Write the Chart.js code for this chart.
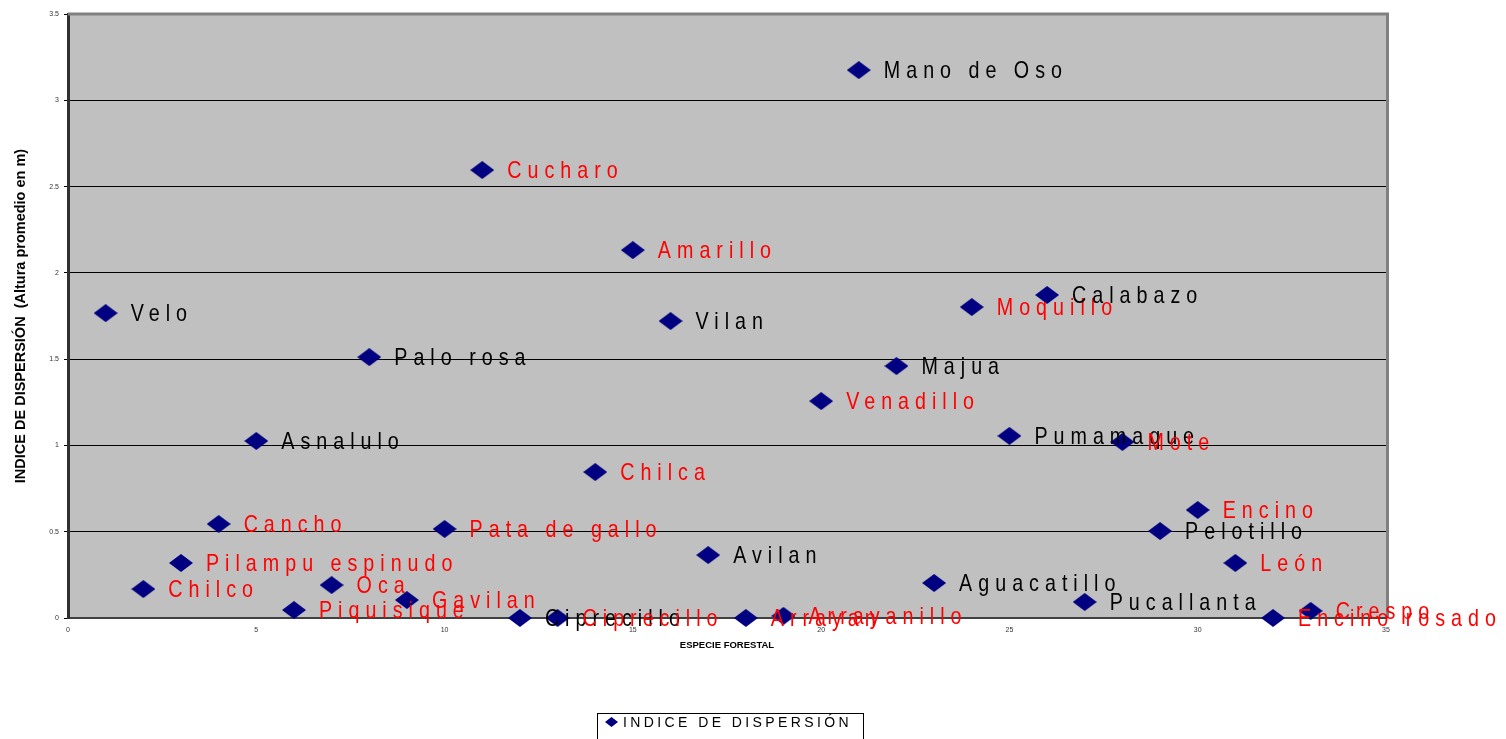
<!DOCTYPE html>
<html>
<head>
<meta charset="utf-8">
<script src="https://cdn.jsdelivr.net/npm/chart.js@4/dist/chart.umd.min.js"></script>
<style>
  html, body { margin: 0; padding: 0; background: #fff; }
  canvas { display: block; }
</style>
</head>
<body>
<canvas id="chart" width="1506" height="739"></canvas>
<script>
// datos de la gráfica
const especies = ['Velo', 'Chilco', 'Pilampu espinudo', 'Cancho', 'Asnalulo', 'Piquisique', 'Oca',
    'Palo rosa', 'Gavilan', 'Pata de gallo', 'Cucharo', 'Ciprecillo', 'Ciprecillo', 'Chilca',
    'Amarillo', 'Vilan', 'Avilan', 'Arrayan', 'Arrayanillo', 'Venadillo', 'Mano de Oso', 'Majua',
    'Aguacatillo', 'Moquillo', 'Pumamaque', 'Calabazo', 'Pucallanta', 'Mote', 'Pelotillo',
    'Encino', 'León', 'Encino rosado', 'Crespo'];
const numeroEspecie = [1, 2, 3, 4, 5, 6, 7, 8, 9, 10, 11, 12, 13, 14, 15, 16, 17, 18, 19, 20,
    21, 22, 23, 24, 25, 26, 27, 28, 29, 30, 31, 32, 33];
const indiceDispersion = [1.767, 0.168, 0.319, 0.545, 1.026, 0.046, 0.191, 1.512, 0.104, 0.516,
    2.596, 0, 0, 0.846, 2.132, 1.721, 0.365, 0, 0.012, 1.257, 3.175, 1.46, 0.203, 1.802, 1.055,
    1.872, 0.093, 1.02, 0.504, 0.626, 0.319, 0, 0.041];
// true = etiqueta roja, false = negra
const etiquetaRoja = [false, true, true, true, false, true, true, false, true, true, true, false,
    true, true, true, false, false, true, true, true, false, false, false, true, false, false,
    false, true, false, true, true, true, true];
const ticksX = [0, 5, 10, 15, 20, 25, 30, 35];
const ticksY = [0, 0.5, 1, 1.5, 2, 2.5, 3, 3.5];

// marcador de rombo aplanado
function crearRombo(w, h, color) {
    const c = document.createElement('canvas');
    c.width = w;
    c.height = h;
    const g = c.getContext('2d');
    g.fillStyle = color;
    g.beginPath();
    g.moveTo(w / 2, 0);
    g.lineTo(w, h / 2);
    g.lineTo(w / 2, h);
    g.lineTo(0, h / 2);
    g.closePath();
    g.fill();
    return c;
}
const rombo = crearRombo(24, 18, '#000080');
const romboLeyenda = crearRombo(13, 10, '#000080');

// fondo gris del área de trazado
const fondoPlugin = {
    id: 'fondo',
    beforeDraw(chart) {
        const { ctx, chartArea: a } = chart;
        ctx.save();
        ctx.fillStyle = '#C0C0C0';
        ctx.fillRect(a.left, a.top, a.right - a.left, a.bottom - a.top);
        ctx.restore();
    },
    beforeDatasetsDraw(chart) {
        const { ctx, chartArea: a } = chart;
        ctx.save();
        ctx.strokeStyle = '#808080';
        ctx.lineWidth = 3;
        ctx.beginPath();
        ctx.moveTo(a.left, a.top);
        ctx.lineTo(a.right + 1.5, a.top);
        ctx.lineTo(a.right + 1.5, a.bottom);
        ctx.stroke();
        ctx.restore();
    }
};

// etiquetas de cada especie (letra estrecha y espaciada)
const etiquetasPlugin = {
    id: 'etiquetas',
    afterDatasetsDraw(chart) {
        const { ctx, scales } = chart;
        const sx = 0.82;
        especies.forEach((nombre, i) => {
            const px = scales.x.getPixelForValue(numeroEspecie[i]);
            const py = scales.y.getPixelForValue(indiceDispersion[i]);
            ctx.save();
            ctx.translate(px + 25, py + 1);
            ctx.scale(sx, 1);
            ctx.font = '24px "Liberation Sans", Arial, sans-serif';
            ctx.letterSpacing = (6 / sx).toFixed(2) + 'px';
            ctx.textBaseline = 'middle';
            ctx.textAlign = 'left';
            ctx.fillStyle = etiquetaRoja[i] ? '#FF0000' : '#000000';
            ctx.fillText(nombre, 0, 0);
            ctx.restore();
        });
    },
    afterDraw(chart) {
        // leyenda con recuadro
        const { ctx } = chart;
        ctx.save();
        ctx.strokeStyle = '#000';
        ctx.lineWidth = 1;
        ctx.strokeRect(597.5, 713.5, 266, 40);
        ctx.drawImage(romboLeyenda, 605, 717);
        ctx.font = '14px "Liberation Sans", Arial, sans-serif';
        ctx.letterSpacing = '3.4px';
        ctx.fillStyle = '#000';
        ctx.textBaseline = 'middle';
        ctx.fillText(chart.data.datasets[0].label, 623, 723);
        ctx.restore();
    }
};

new Chart(document.getElementById('chart'), {
    type: 'scatter',
    data: {
        datasets: [{
            label: 'INDICE DE DISPERSIÓN',
            data: numeroEspecie.map((x, i) => ({ x: x, y: indiceDispersion[i] })),
            pointStyle: rombo,
            pointRadius: 12,
            pointHoverRadius: 12,
            backgroundColor: '#000080',
            borderColor: '#000080',
            clip: false
        }]
    },
    options: {
        responsive: false,
        animation: false,
        layout: { padding: { left: 0, right: 120, top: 14, bottom: 0 } },
        plugins: {
            legend: { display: false },
            tooltip: { enabled: false }
        },
        scales: {
            x: {
                type: 'linear',
                min: 0,
                max: 35,
                afterBuildTicks: s => { s.ticks = ticksX.map(v => ({ value: v })); },
                afterFit: s => { s.height = 121; },
                grid: { display: false, drawTicks: false },
                border: { display: true, color: '#404040', width: 2 },
                ticks: {
                    font: { size: 7, family: 'Arial' }, color: '#333', padding: 8, maxRotation: 0,
                    callback: v => String(v)
                },
                title: {
                    display: true,
                    text: 'ESPECIE FORESTAL',
                    font: { size: 9.5, weight: 'bold', family: 'Arial' },
                    color: '#000',
                    padding: { top: 0, bottom: 88 }
                }
            },
            y: {
                min: 0,
                max: 3.5,
                afterBuildTicks: s => { s.ticks = ticksY.map(v => ({ value: v })); },
                afterFit: s => { s.width = 68; },
                grid: {
                    color: ctx => (ctx.tick && ctx.tick.value === 3.5 ? 'rgba(0,0,0,0)' : '#000'),
                    lineWidth: 1,
                    drawTicks: true,
                    tickLength: 4,
                    tickColor: '#000'
                },
                border: { display: true, color: '#303030', width: 3 },
                ticks: {
                    font: { size: 7, family: 'Arial' }, color: '#333', padding: 5,
                    callback: v => String(v)
                },
                title: {
                    display: true,
                    text: 'INDICE DE DISPERSIÓN  (Altura promedio en m)',
                    font: { size: 14.5, weight: 'bold', family: 'Arial' },
                    color: '#000',
                    padding: { top: 12, bottom: 0 }
                }
            }
        }
    },
    plugins: [fondoPlugin, etiquetasPlugin]
});
</script>
</body>
</html>
